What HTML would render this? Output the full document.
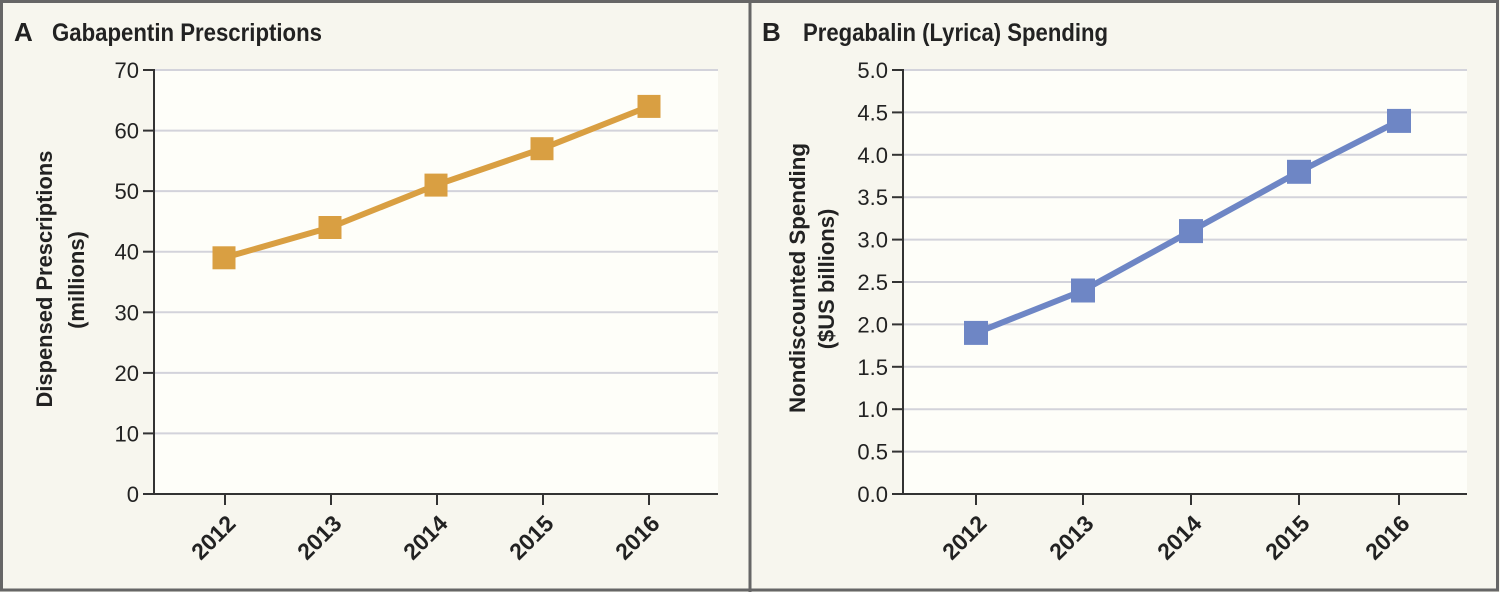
<!DOCTYPE html>
<html><head><meta charset="utf-8"><style>
html,body{margin:0;padding:0;background:#F7F6EE;}
svg{display:block;}
text{font-family:"Liberation Sans",sans-serif;fill:#222;}
</style></head><body>
<svg width="1500" height="592" viewBox="0 0 1500 592" xmlns="http://www.w3.org/2000/svg">
<rect x="0" y="0" width="1500" height="592" fill="#F7F6EE"/>
<!-- borders -->
<rect x="1.5" y="1.5" width="1496" height="588.5" fill="none" stroke="#666" stroke-width="3"/>
<rect x="748.5" y="0" width="3" height="592" fill="#666"/>

<!-- Panel A -->
<text x="14" y="41" font-size="26" font-weight="bold">A</text>
<text x="52" y="41" font-size="25" font-weight="bold" textLength="270" lengthAdjust="spacingAndGlyphs">Gabapentin Prescriptions</text>
<rect x="154" y="70" width="564" height="424" fill="#FEFEF9"/>
<g stroke="#D3D3DB" stroke-width="2">
<line x1="154" y1="70" x2="718" y2="70"/>
<line x1="154" y1="130.6" x2="718" y2="130.6"/>
<line x1="154" y1="191.1" x2="718" y2="191.1"/>
<line x1="154" y1="251.7" x2="718" y2="251.7"/>
<line x1="154" y1="312.3" x2="718" y2="312.3"/>
<line x1="154" y1="372.9" x2="718" y2="372.9"/>
<line x1="154" y1="433.4" x2="718" y2="433.4"/>
</g>
<g stroke="#333" stroke-width="2">
<line x1="154" y1="69" x2="154" y2="495"/>
<line x1="153" y1="494" x2="718" y2="494"/>
<line x1="143" y1="70" x2="154" y2="70"/>
<line x1="143" y1="130.6" x2="154" y2="130.6"/>
<line x1="143" y1="191.1" x2="154" y2="191.1"/>
<line x1="143" y1="251.7" x2="154" y2="251.7"/>
<line x1="143" y1="312.3" x2="154" y2="312.3"/>
<line x1="143" y1="372.9" x2="154" y2="372.9"/>
<line x1="143" y1="433.4" x2="154" y2="433.4"/>
<line x1="143" y1="494" x2="154" y2="494"/>
<line x1="225" y1="494" x2="225" y2="505"/>
<line x1="331" y1="494" x2="331" y2="505"/>
<line x1="437" y1="494" x2="437" y2="505"/>
<line x1="543" y1="494" x2="543" y2="505"/>
<line x1="649" y1="494" x2="649" y2="505"/>
</g>
<g font-size="22" text-anchor="end">
<text x="139" y="78">70</text>
<text x="139" y="138.6">60</text>
<text x="139" y="199.1">50</text>
<text x="139" y="259.7">40</text>
<text x="139" y="320.3">30</text>
<text x="139" y="380.9">20</text>
<text x="139" y="441.4">10</text>
<text x="139" y="502">0</text>
</g>
<g font-size="23" font-weight="bold" text-anchor="end">
<text transform="translate(237,525) rotate(-45)">2012</text>
<text transform="translate(343,525) rotate(-45)">2013</text>
<text transform="translate(449,525) rotate(-45)">2014</text>
<text transform="translate(555,525) rotate(-45)">2015</text>
<text transform="translate(661,525) rotate(-45)">2016</text>
</g>
<g font-size="22" font-weight="bold" text-anchor="middle">
<text transform="translate(52,279) rotate(-90)" textLength="257" lengthAdjust="spacingAndGlyphs">Dispensed Prescriptions</text>
<text transform="translate(84,280) rotate(-90)">(millions)</text>
</g>
<polyline points="224,257.8 330,227.5 436,185.1 542,148.7 649,106.4" fill="none" stroke="#D99F42" stroke-width="6" stroke-linejoin="round"/>
<g fill="#D99F42">
<rect x="212.5" y="246.3" width="23" height="23"/>
<rect x="318.5" y="216" width="23" height="23"/>
<rect x="424.5" y="173.6" width="23" height="23"/>
<rect x="530.5" y="137.2" width="23" height="23"/>
<rect x="637.5" y="94.9" width="23" height="23"/>
</g>

<!-- Panel B -->
<text x="762" y="41" font-size="26" font-weight="bold">B</text>
<text x="803" y="41" font-size="25" font-weight="bold" textLength="305" lengthAdjust="spacingAndGlyphs">Pregabalin (Lyrica) Spending</text>
<rect x="903" y="70" width="564" height="424" fill="#FEFEF9"/>
<g stroke="#D3D3DB" stroke-width="2">
<line x1="903" y1="70" x2="1467" y2="70"/>
<line x1="903" y1="112.4" x2="1467" y2="112.4"/>
<line x1="903" y1="154.8" x2="1467" y2="154.8"/>
<line x1="903" y1="197.2" x2="1467" y2="197.2"/>
<line x1="903" y1="239.6" x2="1467" y2="239.6"/>
<line x1="903" y1="282" x2="1467" y2="282"/>
<line x1="903" y1="324.4" x2="1467" y2="324.4"/>
<line x1="903" y1="366.8" x2="1467" y2="366.8"/>
<line x1="903" y1="409.2" x2="1467" y2="409.2"/>
<line x1="903" y1="451.6" x2="1467" y2="451.6"/>
</g>
<g stroke="#333" stroke-width="2">
<line x1="903" y1="69" x2="903" y2="495"/>
<line x1="902" y1="494" x2="1467" y2="494"/>
<line x1="892" y1="70" x2="903" y2="70"/>
<line x1="892" y1="112.4" x2="903" y2="112.4"/>
<line x1="892" y1="154.8" x2="903" y2="154.8"/>
<line x1="892" y1="197.2" x2="903" y2="197.2"/>
<line x1="892" y1="239.6" x2="903" y2="239.6"/>
<line x1="892" y1="282" x2="903" y2="282"/>
<line x1="892" y1="324.4" x2="903" y2="324.4"/>
<line x1="892" y1="366.8" x2="903" y2="366.8"/>
<line x1="892" y1="409.2" x2="903" y2="409.2"/>
<line x1="892" y1="451.6" x2="903" y2="451.6"/>
<line x1="892" y1="494" x2="903" y2="494"/>
<line x1="976" y1="494" x2="976" y2="505"/>
<line x1="1083" y1="494" x2="1083" y2="505"/>
<line x1="1191" y1="494" x2="1191" y2="505"/>
<line x1="1299" y1="494" x2="1299" y2="505"/>
<line x1="1399" y1="494" x2="1399" y2="505"/>
</g>
<g font-size="22" text-anchor="end">
<text x="888" y="78">5.0</text>
<text x="888" y="120.4">4.5</text>
<text x="888" y="162.8">4.0</text>
<text x="888" y="205.2">3.5</text>
<text x="888" y="247.6">3.0</text>
<text x="888" y="290">2.5</text>
<text x="888" y="332.4">2.0</text>
<text x="888" y="374.8">1.5</text>
<text x="888" y="417.2">1.0</text>
<text x="888" y="459.6">0.5</text>
<text x="888" y="502">0.0</text>
</g>
<g font-size="23" font-weight="bold" text-anchor="end">
<text transform="translate(988,525) rotate(-45)">2012</text>
<text transform="translate(1095,525) rotate(-45)">2013</text>
<text transform="translate(1203,525) rotate(-45)">2014</text>
<text transform="translate(1311,525) rotate(-45)">2015</text>
<text transform="translate(1411,525) rotate(-45)">2016</text>
</g>
<g font-size="22" font-weight="bold" text-anchor="middle">
<text transform="translate(805,278) rotate(-90)" textLength="270" lengthAdjust="spacingAndGlyphs">Nondiscounted Spending</text>
<text transform="translate(834,279) rotate(-90)">($US billions)</text>
</g>
<polyline points="976,332.9 1083,290.5 1191,231.1 1299,171.8 1399,120.9" fill="none" stroke="#6E86C5" stroke-width="6" stroke-linejoin="round"/>
<g fill="#6E86C5">
<rect x="964" y="320.9" width="24" height="24"/>
<rect x="1071" y="278.5" width="24" height="24"/>
<rect x="1179" y="219.1" width="24" height="24"/>
<rect x="1287" y="159.8" width="24" height="24"/>
<rect x="1387" y="108.9" width="24" height="24"/>
</g>
</svg>
</body></html>
